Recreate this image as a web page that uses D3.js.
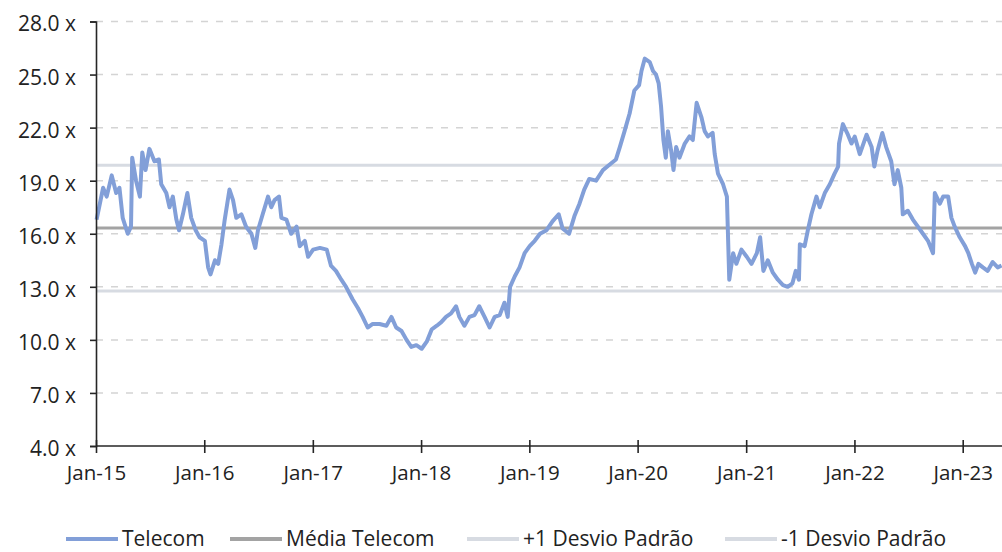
<!DOCTYPE html>
<html>
<head>
<meta charset="utf-8">
<script src="https://cdn.jsdelivr.net/npm/d3@7"></script>
<style>
html,body{margin:0;padding:0;background:#fff;overflow:hidden;}
svg{display:block;}
text{font-family:"Open Sans",sans-serif;fill:#222;}
</style>
</head>
<body>
<svg id="chart" width="1002" height="552"></svg>
<script>
// ---- data ----
const dates = [
"2015-01-03","2015-01-25","2015-02-06","2015-02-23","2015-03-10","2015-03-21","2015-04-01","2015-04-18","2015-04-29","2015-05-03",
"2015-05-16","2015-05-29","2015-06-06","2015-06-17","2015-06-30","2015-07-17","2015-08-01","2015-08-09","2015-08-26","2015-09-06",
"2015-09-17","2015-09-29","2015-10-08","2015-10-21","2015-11-05","2015-11-18","2015-12-03","2015-12-16","2016-01-03","2016-01-14",
"2016-01-22","2016-02-06","2016-02-17","2016-02-28","2016-03-10","2016-03-26","2016-04-07","2016-04-18","2016-05-05","2016-05-21",
"2016-06-08","2016-06-21","2016-06-30","2016-07-16","2016-08-03","2016-08-14","2016-08-25","2016-09-09","2016-09-17","2016-10-04",
"2016-10-20","2016-11-07","2016-11-18","2016-12-05","2016-12-16","2017-01-02","2017-01-25","2017-02-17","2017-03-03","2017-03-20",
"2017-04-07","2017-04-23","2017-05-15","2017-06-02","2017-06-18","2017-07-05","2017-07-22","2017-08-14","2017-09-06","2017-09-23",
"2017-10-09","2017-10-27","2017-11-13","2017-11-29","2017-12-16","2018-01-03","2018-01-20","2018-02-06","2018-02-23","2018-03-10",
"2018-03-26","2018-04-12","2018-04-29","2018-05-10","2018-05-27","2018-06-13","2018-06-30","2018-07-16","2018-08-03","2018-08-20",
"2018-09-06","2018-09-23","2018-10-09","2018-10-20","2018-10-28","2018-11-13","2018-11-29","2018-12-16","2019-01-02","2019-01-19",
"2019-02-06","2019-02-28","2019-03-20","2019-04-10","2019-04-23","2019-05-15","2019-06-02","2019-06-19","2019-07-05","2019-07-22",
"2019-08-14","2019-09-06","2019-09-28","2019-10-20","2019-11-02","2019-11-18","2019-12-05","2019-12-21","2020-01-06","2020-01-14",
"2020-01-25","2020-02-11","2020-02-22","2020-03-03","2020-03-12","2020-03-20","2020-03-28","2020-04-05","2020-04-12","2020-04-23",
"2020-05-01","2020-05-10","2020-05-21","2020-06-08","2020-06-24","2020-07-05","2020-07-18","2020-08-03","2020-08-14","2020-08-25",
"2020-09-10","2020-09-17","2020-09-28","2020-10-15","2020-10-28","2020-11-05","2020-11-18","2020-11-29","2020-12-16","2021-01-03",
"2021-01-19","2021-02-06","2021-02-17","2021-02-28","2021-03-15","2021-04-01","2021-04-18","2021-05-05","2021-05-21","2021-06-06",
"2021-06-17","2021-06-28","2021-07-01","2021-07-17","2021-07-28","2021-08-09","2021-08-26","2021-09-06","2021-09-23","2021-10-10",
"2021-10-26","2021-11-07","2021-11-10","2021-11-23","2021-12-10","2021-12-22","2022-01-02","2022-01-19","2022-02-11","2022-02-28",
"2022-03-09","2022-03-20","2022-04-05","2022-04-18","2022-05-05","2022-05-16","2022-05-27","2022-06-08","2022-06-13","2022-06-30",
"2022-07-17","2022-08-03","2022-08-20","2022-09-06","2022-09-23","2022-09-29","2022-10-16","2022-10-27","2022-11-13","2022-11-24",
"2022-12-05","2022-12-22","2023-01-09","2023-01-20","2023-02-01","2023-02-12","2023-02-23","2023-03-10","2023-03-26","2023-04-12",
"2023-04-29","2023-05-12"
];
const telecom = [
16.8,18.6,18.1,19.3,18.3,18.6,16.9,16.0,16.4,20.3,
19.0,18.1,20.6,19.6,20.8,20.1,20.2,18.8,18.3,17.5,
18.1,16.8,16.2,17.1,18.3,16.9,16.2,15.8,15.6,14.1,
13.7,14.5,14.3,15.4,16.8,18.5,17.9,16.9,17.1,16.4,
16.0,15.2,16.2,17.1,18.1,17.5,17.9,18.1,16.9,16.8,
16.0,16.4,15.3,15.6,14.7,15.1,15.2,15.1,14.2,13.9,
13.4,13.0,12.3,11.8,11.3,10.7,10.9,10.9,10.8,11.3,
10.7,10.5,10.0,9.6,9.7,9.5,9.9,10.6,10.8,11.0,
11.3,11.5,11.9,11.3,10.8,11.3,11.4,11.9,11.3,10.7,
11.3,11.4,12.1,11.3,13.0,13.6,14.1,14.9,15.3,15.6,
16.0,16.2,16.7,17.1,16.3,16.0,17.0,17.7,18.5,19.1,
19.0,19.6,19.9,20.2,20.9,21.8,22.8,24.1,24.4,25.2,
25.9,25.7,25.2,25.0,24.5,23.2,21.3,20.3,21.8,20.7,
19.6,20.9,20.3,21.1,21.5,21.3,23.4,22.6,21.8,21.5,
21.7,20.5,19.4,18.8,18.1,13.4,14.9,14.3,15.1,14.7,
14.3,14.9,15.8,13.9,14.5,13.8,13.4,13.1,13.0,13.2,
13.9,13.4,15.4,15.3,16.2,17.1,18.1,17.5,18.3,18.8,
19.4,19.8,21.1,22.2,21.6,21.1,21.5,20.5,21.6,20.9,
19.8,20.7,21.7,20.9,20.1,18.8,19.6,18.6,17.1,17.3,
16.8,16.4,16.0,15.6,14.9,18.3,17.7,18.1,18.1,16.9,
16.4,15.8,15.3,14.9,14.3,13.8,14.3,14.1,13.9,14.4,
14.1,14.2
];
const mediaTelecom = 16.32;
const desvioPlus = 19.87;
const desvioMinus = 12.77;
const yTicks = [4, 7, 10, 13, 16, 19, 22, 25, 28];
const xTickDates = ["2015-01-01","2016-01-01","2017-01-01","2018-01-01","2019-01-01","2020-01-01","2021-01-01","2022-01-01","2023-01-01"];
const xTickLabels = ["Jan-15","Jan-16","Jan-17","Jan-18","Jan-19","Jan-20","Jan-21","Jan-22","Jan-23"];
const legendLabels = ["Telecom","Média Telecom","+1 Desvio Padrão","-1 Desvio Padrão"];

// ---- drawing ----
const parse = d3.timeParse("%Y-%m-%d");
const svg = d3.select("#chart");
const W = 1002;
const x = d3.scaleTime()
  .domain([parse(xTickDates[0]), parse(xTickDates[xTickDates.length - 1])])
  .range([96, 962.7]);
const y = d3.scaleLinear().domain([4, 28]).range([446, 21.5]);

const colors = {tel: "#829fd8", mean: "#a3a3a3", sd: "#d7dbe2", grid: "#d4d4d4", axis: "#262626"};

// gridlines
svg.append("g").selectAll("line")
  .data(yTicks.filter(v => v !== 4))
  .join("line")
  .attr("x1", 96).attr("x2", W)
  .attr("y1", d => y(d)).attr("y2", d => y(d))
  .attr("stroke", colors.grid).attr("stroke-width", 1.5)
  .attr("stroke-dasharray", "7,8");

// reference lines
const refs = [
  {v: desvioPlus, c: colors.sd},
  {v: desvioMinus, c: colors.sd},
  {v: mediaTelecom, c: colors.mean}
];
svg.append("g").selectAll("line")
  .data(refs).join("line")
  .attr("x1", 97).attr("x2", W)
  .attr("y1", d => y(d.v)).attr("y2", d => y(d.v))
  .attr("stroke", d => d.c).attr("stroke-width", 3);

// series
const series = dates.map((d, i) => ({date: parse(d), value: telecom[i]}));
svg.append("path")
  .datum(series)
  .attr("fill", "none")
  .attr("stroke", colors.tel)
  .attr("stroke-width", 4)
  .attr("stroke-linejoin", "round")
  .attr("d", d3.line().x(d => x(d.date)).y(d => y(d.value)));

// y axis
const yAxis = d3.axisLeft(y)
  .tickValues(yTicks)
  .tickSize(6)
  .tickPadding(14)
  .tickFormat(d => d3.format(".1f")(d) + " x");
const gy = svg.append("g").attr("transform", "translate(96,0)").call(yAxis);
gy.select(".domain").attr("stroke", colors.axis).attr("stroke-width", 1.6);
gy.selectAll(".tick line").attr("stroke", colors.axis).attr("stroke-width", 1.6);
gy.selectAll(".tick text")
  .attr("font-family", "Open Sans, sans-serif")
  .attr("font-size", 21)
  .attr("fill", "#222")
  .attr("dy", "0.45em");

// x axis
const xAxis = d3.axisBottom(x)
  .tickValues(xTickDates.map(parse))
  .tickSize(7)
  .tickPadding(12)
  .tickFormat((d, i) => xTickLabels[i]);
const gx = svg.append("g").attr("transform", "translate(0,446)").call(xAxis);
gx.select(".domain").remove();
gx.append("line").attr("x1", 96).attr("x2", W + 10).attr("y1", 0).attr("y2", 0)
  .attr("stroke", colors.axis).attr("stroke-width", 1.6);
gx.selectAll(".tick line").attr("y1", -6).attr("stroke", colors.axis).attr("stroke-width", 1.6);
gx.selectAll(".tick text")
  .attr("font-family", "Open Sans, sans-serif")
  .attr("font-size", 20.5)
  .attr("fill", "#222");

// legend
const legendItems = [
  {label: legendLabels[0], c: colors.tel, x0: 66},
  {label: legendLabels[1], c: colors.mean, x0: 230},
  {label: legendLabels[2], c: colors.sd, x0: 467},
  {label: legendLabels[3], c: colors.sd, x0: 725}
];
const lg = svg.append("g");
const li = lg.selectAll("g").data(legendItems).join("g")
  .attr("transform", d => `translate(${d.x0},539)`);
li.append("line").attr("x1", 0).attr("x2", 52).attr("y1", 0).attr("y2", 0)
  .attr("stroke", d => d.c).attr("stroke-width", 4);
li.append("text").attr("x", 56).attr("y", 7)
  .attr("font-family", "Open Sans, sans-serif")
  .attr("font-size", 21)
  .attr("fill", "#111")
  .text(d => d.label);
</script>
</body>
</html>
